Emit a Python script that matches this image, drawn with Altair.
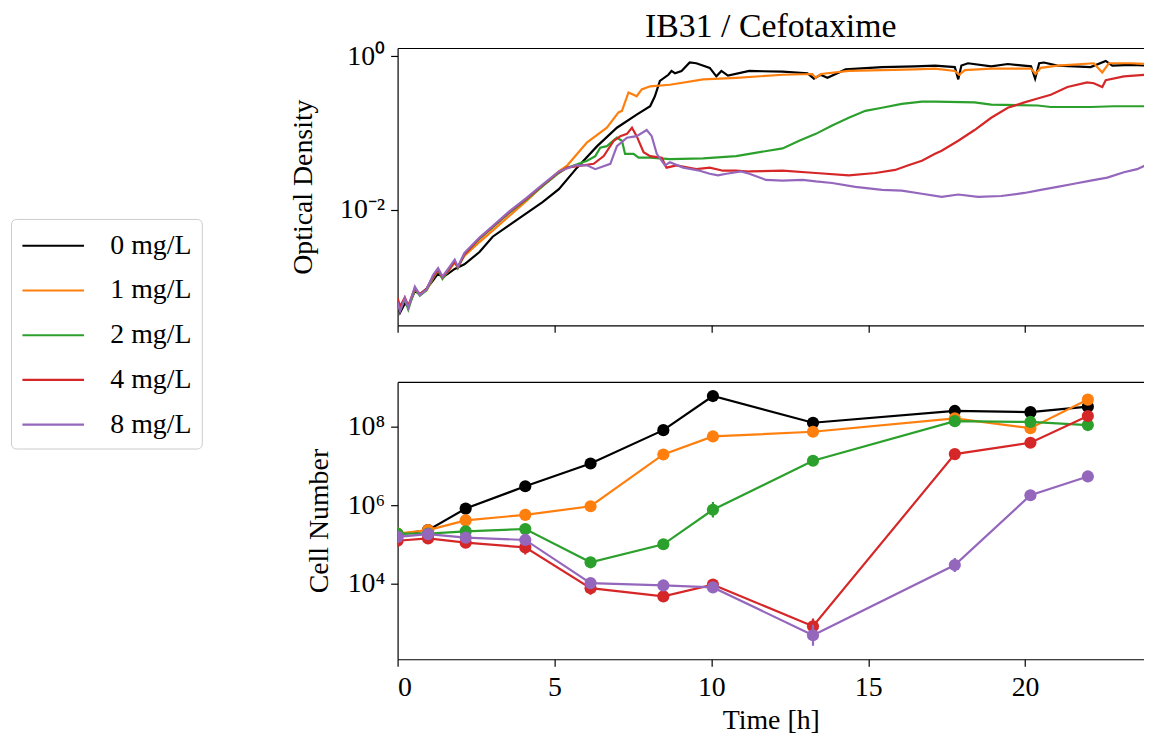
import altair as alt
import pandas as pd

FONT = "Liberation Serif"
series = ["0 mg/L", "1 mg/L", "2 mg/L", "4 mg/L", "8 mg/L"]
colors = ["#000000", "#ff7f0e", "#2ca02c", "#d62728", "#9467bd"]

# ---------- Optical density (time in h, log10 OD) ----------
od_t_0 = [0, 0.08, 0.23, 0.34, 0.55, 0.71, 0.92, 1.13, 1.29, 1.43, 1.61, 1.82, 2.13, 2.61, 3.03, 3.56, 4.09, 4.62, 5.14, 5.72, 6.36, 6.99, 7.62, 8.05, 8.2, 8.36, 8.63, 8.73, 8.84, 9.05, 9.31, 9.52, 9.95, 10.16, 10.32, 10.53, 11.21, 12.27, 13.06, 13.27, 13.48, 13.7, 14.28, 15.44, 16.49, 17.13, 17.76, 17.87, 17.97, 18.18, 18.92, 19.45, 20.19, 20.32, 20.45, 20.6, 21.03, 22.09, 22.57, 22.78, 23.36, 23.84]
od_v_0 = [-3.2, -3.34, -3.22, -3.26, -3.06, -3.1, -3.03, -2.92, -2.83, -2.88, -2.83, -2.77, -2.71, -2.55, -2.35, -2.2, -2.05, -1.9, -1.73, -1.45, -1.17, -0.93, -0.76, -0.65, -0.52, -0.32, -0.24, -0.19, -0.22, -0.19, -0.08, -0.09, -0.15, -0.26, -0.19, -0.25, -0.19, -0.20, -0.22, -0.29, -0.24, -0.28, -0.17, -0.14, -0.13, -0.12, -0.14, -0.30, -0.12, -0.09, -0.13, -0.10, -0.13, -0.29, -0.09, -0.08, -0.12, -0.14, -0.06, -0.12, -0.11, -0.12]

od_t_1 = [0, 0.08, 0.23, 0.34, 0.55, 0.71, 0.92, 1.13, 1.29, 1.43, 1.61, 1.82, 1.92, 2.13, 2.61, 3.03, 3.56, 4.09, 4.62, 5.14, 5.41, 6.04, 6.67, 7.04, 7.15, 7.36, 7.52, 7.62, 7.78, 8.05, 8.68, 9.74, 10.79, 12.27, 13.22, 13.32, 13.5, 14.38, 15.44, 16.49, 17.13, 17.76, 17.9, 18.08, 18.92, 20.19, 20.33, 20.5, 21.03, 22.19, 22.46, 22.67, 23.36, 23.84]
od_v_1 = [-3.22, -3.3, -3.16, -3.27, -3.04, -3.1, -3.05, -2.89, -2.79, -2.88, -2.8, -2.69, -2.74, -2.6, -2.42, -2.27, -2.08, -1.89, -1.69, -1.50, -1.42, -1.12, -0.93, -0.73, -0.71, -0.47, -0.50, -0.52, -0.43, -0.39, -0.37, -0.30, -0.28, -0.24, -0.23, -0.28, -0.23, -0.19, -0.18, -0.17, -0.16, -0.19, -0.24, -0.18, -0.16, -0.16, -0.23, -0.15, -0.12, -0.09, -0.21, -0.09, -0.09, -0.10]

od_t_2 = [0, 0.08, 0.23, 0.34, 0.55, 0.71, 0.92, 1.13, 1.29, 1.43, 1.61, 1.82, 1.92, 2.13, 2.61, 3.03, 3.56, 4.09, 4.62, 5.14, 5.41, 6.04, 6.3, 6.46, 6.67, 6.99, 7.15, 7.25, 7.52, 7.68, 8.05, 8.68, 9.74, 10.79, 11.21, 12.27, 12.8, 13.33, 13.85, 14.38, 14.91, 15.44, 16.07, 16.71, 17.13, 18.39, 18.92, 20.4, 20.82, 22.09, 22.83, 23.84]
od_v_2 = [-3.21, -3.28, -3.17, -3.3, -3.03, -3.12, -3.05, -2.88, -2.78, -2.9, -2.8, -2.67, -2.76, -2.58, -2.38, -2.23, -2.04, -1.87, -1.69, -1.52, -1.45, -1.36, -1.30, -1.19, -1.17, -1.06, -1.10, -1.27, -1.27, -1.32, -1.32, -1.34, -1.33, -1.30, -1.27, -1.20, -1.10, -1.01, -0.90, -0.80, -0.71, -0.67, -0.62, -0.59, -0.59, -0.60, -0.63, -0.64, -0.66, -0.66, -0.65, -0.65]

od_t_4 = [0, 0.08, 0.23, 0.34, 0.55, 0.71, 0.92, 1.13, 1.29, 1.43, 1.61, 1.82, 1.92, 2.13, 2.61, 3.03, 3.56, 4.09, 4.62, 5.14, 5.41, 6.25, 6.57, 6.89, 7.1, 7.31, 7.47, 7.62, 7.84, 8.05, 8.42, 8.57, 8.89, 9.52, 9.95, 10.37, 10.79, 11.21, 12.27, 13.33, 14.38, 15.23, 15.86, 16.28, 16.71, 17.13, 17.34, 17.87, 18.39, 18.92, 19.45, 19.98, 20.4, 20.82, 21.35, 21.98, 22.19, 22.46, 22.57, 23.15, 23.84]
od_v_4 = [-3.15, -3.26, -3.14, -3.25, -3.02, -3.1, -3.03, -2.87, -2.78, -2.88, -2.79, -2.67, -2.75, -2.58, -2.37, -2.22, -2.03, -1.86, -1.68, -1.51, -1.45, -1.40, -1.30, -1.10, -1.04, -1.01, -0.93, -1.04, -1.25, -1.30, -1.32, -1.45, -1.42, -1.47, -1.45, -1.49, -1.49, -1.50, -1.49, -1.52, -1.55, -1.52, -1.48, -1.42, -1.36, -1.27, -1.23, -1.10, -0.96, -0.80, -0.67, -0.60, -0.55, -0.50, -0.40, -0.34, -0.35, -0.40, -0.31, -0.26, -0.24]

od_t_8 = [0, 0.08, 0.23, 0.34, 0.55, 0.71, 0.92, 1.13, 1.29, 1.43, 1.61, 1.82, 1.92, 2.13, 2.61, 3.03, 3.56, 4.09, 4.62, 5.14, 5.67, 6.04, 6.3, 6.78, 6.99, 7.31, 7.62, 7.94, 8.1, 8.26, 8.52, 8.68, 9.1, 9.63, 9.95, 10.21, 10.48, 10.95, 11.21, 11.74, 12.27, 12.91, 13.33, 13.85, 14.59, 15.44, 16.07, 16.71, 17.34, 17.87, 18.5, 19.24, 19.98, 20.5, 21.03, 21.56, 22.09, 22.62, 23.15, 23.57, 23.84]
od_v_8 = [-3.2, -3.32, -3.15, -3.28, -3.0, -3.11, -3.04, -2.85, -2.76, -2.87, -2.77, -2.65, -2.74, -2.56, -2.36, -2.21, -2.02, -1.85, -1.67, -1.50, -1.42, -1.42, -1.47, -1.40, -1.17, -1.06, -1.04, -0.96, -1.04, -1.27, -1.42, -1.38, -1.45, -1.49, -1.53, -1.55, -1.53, -1.50, -1.53, -1.61, -1.62, -1.61, -1.63, -1.65, -1.70, -1.74, -1.75, -1.79, -1.83, -1.80, -1.83, -1.82, -1.78, -1.74, -1.70, -1.66, -1.62, -1.58, -1.51, -1.47, -1.42]

od_times = [od_t_0, od_t_1, od_t_2, od_t_4, od_t_8]
od_logs = [od_v_0, od_v_1, od_v_2, od_v_4, od_v_8]

# ---------- Cell number (time in h, log10 cells, log10 error half-width) ----------
cfu_t = [0, 0.97, 2.17, 4.07, 6.15, 8.47, 10.05, 13.24, 17.76, 20.17, 22.0]
cfu_v_0 = [5.25, 5.36, 5.91, 6.48, 7.06, 7.91, 8.78, 8.10, 8.40, 8.37, 8.51]
cfu_v_1 = [5.27, 5.36, 5.61, 5.75, 5.97, 7.29, 7.75, 7.87, 8.21, 7.96, 8.69]
cfu_v_2 = [5.27, 5.27, 5.33, 5.39, 4.54, 5.00, 5.88, 7.13, 8.14, 8.12, 8.04]
cfu_v_4 = [5.09, 5.15, 5.04, 4.92, 3.88, 3.67, 3.97, 2.91, 7.30, 7.59, 8.27]
cfu_v_8 = [5.19, 5.26, 5.17, 5.11, 4.01, 3.95, 3.90, 2.68, 4.47, 6.25, 6.73]
cfu_e_0 = [0, 0, 0, 0, 0, 0, 0, 0, 0, 0, 0]
cfu_e_1 = [0, 0, 0, 0, 0, 0, 0, 0, 0, 0, 0]
cfu_e_2 = [0, 0, 0, 0, 0, 0, 0.2, 0, 0, 0, 0]
cfu_e_4 = [0, 0, 0, 0.18, 0.17, 0.08, 0, 0.2, 0, 0, 0]
cfu_e_8 = [0, 0, 0, 0, 0, 0, 0, 0.27, 0.18, 0, 0]
cfu_logs = [cfu_v_0, cfu_v_1, cfu_v_2, cfu_v_4, cfu_v_8]
cfu_errs = [cfu_e_0, cfu_e_1, cfu_e_2, cfu_e_4, cfu_e_8]

od_rows = []
for s, ts, vs in zip(series, od_times, od_logs):
    for t, v in zip(ts, vs):
        od_rows.append({"series": s, "time": t, "od": 10 ** v})
od_df = pd.DataFrame(od_rows)

cfu_rows = []
for s, vs, es in zip(series, cfu_logs, cfu_errs):
    for t, v, e in zip(cfu_t, vs, es):
        cfu_rows.append({"series": s, "time": t, "n": 10 ** v,
                         "lo": 10 ** (v - e), "hi": 10 ** (v + e)})
cfu_df = pd.DataFrame(cfu_rows)

XMAX = 23.79
W, H = 751, 279
xscale = alt.Scale(domain=[0, XMAX], nice=False, zero=False)
cscale = alt.Scale(domain=series, range=colors)

legend = alt.Legend(
    title=None, orient="none", legendX=-389, legendY=172,
    labelFont=FONT, labelFontSize=28, labelColor="black", labelOffset=56,
    symbolType="M-1,0H3", symbolSize=961, symbolStrokeWidth=2.2,
    rowPadding=14, padding=10, strokeColor="#cccccc", fillColor="white",
    cornerRadius=5,
)

ax_bottom_nolab = alt.Axis(orient="bottom", values=[0, 5, 10, 15, 20], labels=False, title=None)
ax_top_spine = alt.Axis(orient="top", ticks=False, labels=False, title=None)
ax_bottom = alt.Axis(orient="bottom", values=[0, 5, 10, 15, 20], format="d",
                     title="Time [h]", labelPadding=7, titlePadding=6)

y_od_axis = alt.Axis(values=[0.01, 1], title="Optical Density",
                     labelExpr="datum.value > 0.5 ? '10⁰' : '10⁻²'",
                     labelPadding=6, titlePadding=22)
y_cfu_axis = alt.Axis(values=[1e4, 1e6, 1e8], title="Cell Number",
                      labelExpr="datum.value > 5e7 ? '10⁸' : (datum.value > 5e5 ? '10⁶' : '10⁴')",
                      labelPadding=6, titlePadding=14)

y_od_scale = alt.Scale(type="log", domain=[3.13e-4, 1.285], nice=False)
y_cfu_scale = alt.Scale(type="log", domain=[117, 1.38e9], nice=False)

top_layers = []
for i, s in enumerate(series):
    xax = ax_bottom_nolab if i == 0 else (ax_top_spine if i == 1 else None)
    top_layers.append(
        alt.Chart(od_df).transform_filter(alt.datum.series == s)
        .mark_line(strokeWidth=2.2, clip=True)
        .encode(
            x=alt.X("time:Q", scale=xscale, axis=xax),
            y=alt.Y("od:Q", scale=y_od_scale, axis=y_od_axis),
            color=alt.Color("series:N", scale=cscale, legend=legend),
        )
    )
top = alt.layer(*top_layers).resolve_axis(x="independent").properties(
    width=W, height=H,
    title=alt.TitleParams("IB31 / Cefotaxime", font=FONT, fontSize=34,
                          fontWeight="normal", color="black", anchor="middle",
                          offset=-2),
)

bot_layers = []
for i, s in enumerate(series):
    xax = ax_bottom if i == 0 else (ax_top_spine if i == 1 else None)
    base = alt.Chart(cfu_df).transform_filter(alt.datum.series == s)
    enc_x = alt.X("time:Q", scale=xscale, axis=xax)
    col = alt.Color("series:N", scale=cscale, legend=None)
    err = base.transform_filter(alt.datum.hi > alt.datum.lo).mark_rule(strokeWidth=2.2, clip=True).encode(
        x=alt.X("time:Q", scale=xscale, axis=None),
        y=alt.Y("lo:Q", scale=y_cfu_scale, axis=y_cfu_axis), y2="hi:Q", color=col)
    line = base.mark_line(strokeWidth=2.2, clip=True).encode(
        x=enc_x, y=alt.Y("n:Q", scale=y_cfu_scale, axis=y_cfu_axis), color=col)
    pts = base.mark_circle(size=150, opacity=1, clip=True).encode(
        x=alt.X("time:Q", scale=xscale, axis=None),
        y=alt.Y("n:Q", scale=y_cfu_scale, axis=y_cfu_axis), color=col)
    bot_layers += [line, err, pts]
bottom = alt.layer(*bot_layers).resolve_axis(x="independent").properties(width=W, height=H)

chart = alt.vconcat(top, bottom, spacing=57, bounds="flush").resolve_scale(
    x="independent", y="independent", color="independent"
).resolve_legend(color="independent").properties(
    padding={"left": 2, "top": 0, "right": 0, "bottom": 0}
).configure_view(stroke=None).configure_axis(
    labelFont=FONT, titleFont=FONT, labelFontSize=28, titleFontSize=28,
    titleFontWeight="normal", labelColor="black", titleColor="black",
    domainColor="black", tickColor="black", domainWidth=1.2, tickWidth=1.2,
    tickSize=7, grid=False,
)

chart.save("out.html", embed_options={"renderer": "svg", "actions": False})
